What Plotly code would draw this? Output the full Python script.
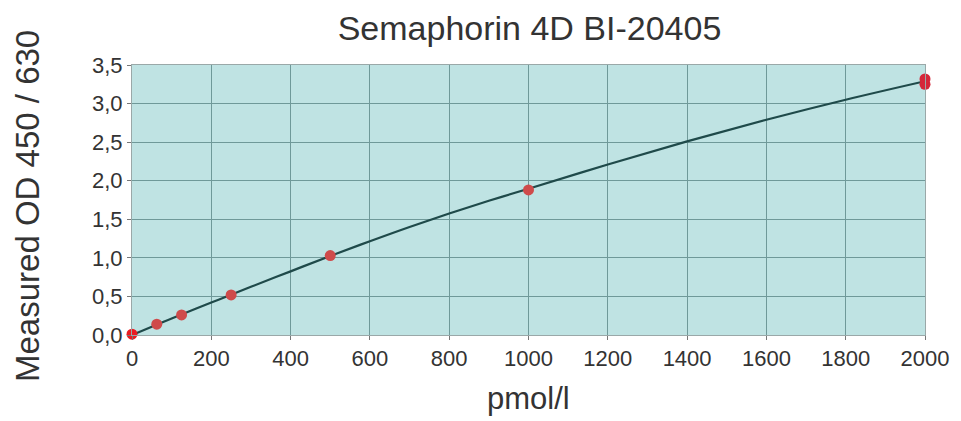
import plotly.graph_objects as go

# Standards (measured points)
conc = [0, 62.5, 125, 250, 500, 1000, 2000, 2000]
od = [0.01, 0.14, 0.26, 0.52, 1.03, 1.88, 3.25, 3.32]
point_colors = ["#ea1c22", "#cf4b4b", "#cf4b4b", "#cf4b4b", "#cf4b4b", "#cf4b4b", "#d5283a", "#d5283a"]

# Fitted curve
curve_x = [0, 100, 200, 300, 400, 500, 600, 700, 800, 900, 1000, 1200, 1400, 1600, 1800, 2000]
curve_y = [0.0, 0.215, 0.42, 0.625, 0.825, 1.025, 1.215, 1.40, 1.575, 1.74, 1.895, 2.21, 2.51, 2.79, 3.05, 3.29]

x_ticks = [0, 200, 400, 600, 800, 1000, 1200, 1400, 1600, 1800, 2000]
y_ticks = [0.0, 0.5, 1.0, 1.5, 2.0, 2.5, 3.0, 3.5]

fig = go.Figure()
fig.add_trace(go.Scatter(x=curve_x, y=curve_y, mode="lines",
                         line=dict(color="#1f4a4a", width=2.2, shape="spline", smoothing=1.0),
                         hoverinfo="skip", showlegend=False))
fig.add_trace(go.Scatter(x=conc, y=od, mode="markers",
                         marker=dict(color=point_colors, size=11),
                         showlegend=False, cliponaxis=False))

font = "Liberation Sans, Arial, sans-serif"
txt = "#333333"
fig.update_layout(
    width=961, height=421,
    margin=dict(l=132, r=34, t=65, b=86),
    paper_bgcolor="white",
    plot_bgcolor="#bfe3e3",
    separators=", ",
    font=dict(family=font, color=txt),
    title=dict(text="Semaphorin 4D BI-20405", x=529.5 / 961, xanchor="center", xref="container",
               yref="container", y=1 - 28 / 421, yanchor="middle",
               font=dict(size=34, color=txt)),
    annotations=[
        dict(text="Measured OD 450 / 630", xref="paper", yref="paper", x=0, y=0.5,
             xanchor="center", yanchor="middle", xshift=-105, yshift=-6,
             textangle=-90, showarrow=False, font=dict(size=33, color=txt)),
        dict(text="pmol/l", xref="paper", yref="paper", x=0.5, y=0,
             xanchor="center", yanchor="middle", yshift=-63,
             showarrow=False, font=dict(size=31, color=txt)),
    ],
)
fig.update_xaxes(range=[0, 2000], tickvals=x_ticks, tickformat="d",
                 showgrid=True, gridcolor="#6f9999", gridwidth=1,
                 showline=True, linecolor="#9aa8a8", linewidth=1, mirror=True,
                 ticks="outside", ticklen=4, tickcolor="#777777",
                 tickfont=dict(size=22, color=txt),
                 zeroline=False)
fig.update_yaxes(range=[0, 3.5], tickvals=y_ticks, tickformat=".1f",
                 showgrid=True, gridcolor="#6f9999", gridwidth=1,
                 showline=True, linecolor="#9aa8a8", linewidth=1, mirror=True,
                 ticks="outside", ticklen=4, tickcolor="#777777",
                 tickfont=dict(size=22, color=txt),
                 zeroline=False)

fig.write_html("out.html")
